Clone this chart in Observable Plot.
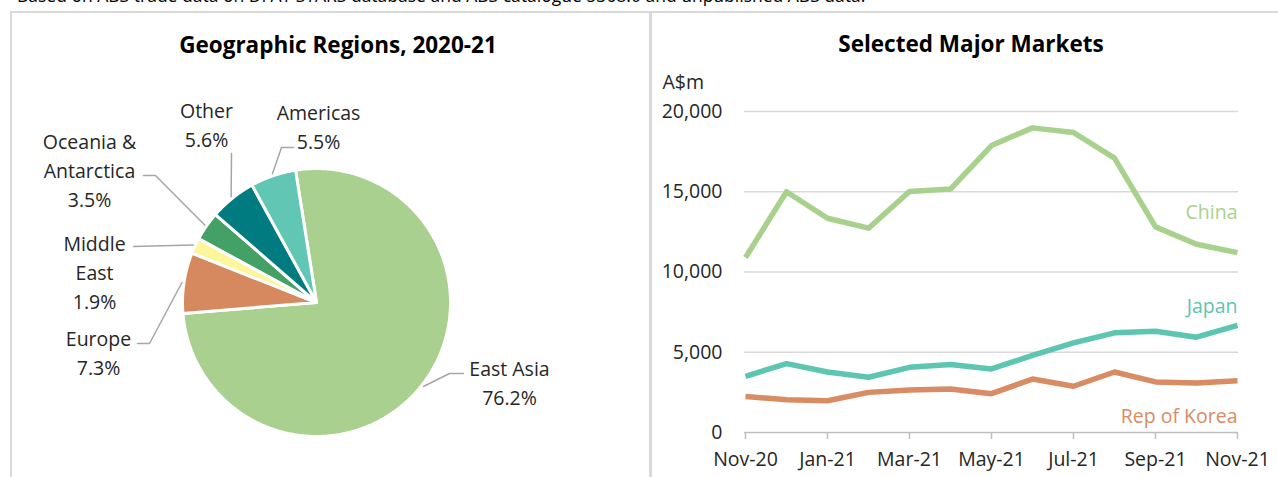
<!DOCTYPE html>
<html><head><meta charset="utf-8">
<script src="https://cdn.jsdelivr.net/npm/d3@7"></script>
<script src="https://cdn.jsdelivr.net/npm/@observablehq/plot@0.6"></script>
<style>
body{margin:0;background:#fff;font-family:"Open Sans",sans-serif;}
#root{position:relative;width:1278px;height:477px;overflow:hidden;background:#fff;}
.abs{position:absolute;}
.caption{left:17px;top:-15px;font-size:17.5px;color:#000;white-space:nowrap;line-height:20px;}
.border{background:#d9d9d9;}
.title{font-weight:bold;font-size:22.5px;color:#000;white-space:nowrap;transform:translate(-50%,-50%);line-height:28px;}
svg{position:absolute;overflow:visible;}
</style></head><body><div id="root"></div>
<script>
// ---------- data ----------
const regions = ["East Asia", "Europe", "Middle East", "Oceania & Antarctica", "Other", "Americas"];
const regionLabels = ["East Asia", "Europe", "Middle\nEast", "Oceania &\nAntarctica", "Other", "Americas"];
const regionShares = [76.2, 7.3, 1.9, 3.5, 5.6, 5.5];
const regionColors = ["#A9D08E", "#D6895F", "#FFF59A", "#43A165", "#007B80", "#62C6B4"];

const months = ["Nov-20","Dec-20","Jan-21","Feb-21","Mar-21","Apr-21","May-21","Jun-21","Jul-21","Aug-21","Sep-21","Oct-21","Nov-21"];
const monthTicks = ["Nov-20","Jan-21","Mar-21","May-21","Jul-21","Sep-21","Nov-21"];
const china = [10900, 15000, 13350, 12730, 15020, 15170, 17880, 18980, 18690, 17100, 12810, 11730, 11210];
const japan = [3500, 4290, 3770, 3440, 4060, 4230, 3960, 4810, 5580, 6210, 6310, 5940, 6670];
const korea = [2250, 2040, 1980, 2500, 2650, 2710, 2420, 3330, 2880, 3770, 3150, 3080, 3230];
const marketNames = ["China", "Japan", "Rep of Korea"];
const marketColors = ["#A9D18E", "#5CC6B1", "#D98B63"];
const valueTicks = [0, 5000, 10000, 15000, 20000];

// ---------- layout (not data) ----------
const FONT = "'Open Sans', sans-serif";
const FS = 19.5;
const root = document.getElementById("root");
function div(cls, style, text) {
  const d = document.createElement("div");
  d.className = "abs " + cls;
  Object.assign(d.style, style);
  if (text) d.textContent = text;
  root.appendChild(d);
  return d;
}
div("caption", {}, "Based on ABS trade data on DFAT STARS database and ABS catalogue 5368.0 and unpublished ABS data.");
div("border", {left: "10px", top: "11px", width: "1268px", height: "2px"});
div("border", {left: "10px", top: "11px", width: "2px", height: "466px"});
div("border", {left: "649px", top: "11px", width: "3px", height: "466px"});
div("title", {left: "338px", top: "45px"}, "Geographic Regions, 2020-21");
div("title", {left: "971px", top: "44px"}, "Selected Major Markets");

// ---------- pie ----------
const R = 134, CX = 316, CY = 302, START = -9 * Math.PI / 180;
const regionRows = regions.map((name, i) => ({name, label: regionLabels[i], share: regionShares[i]}));
const arcs = d3.pie().sort(null).value(d => d.share)
  .startAngle(START).endAngle(START + 2 * Math.PI)(regionRows);
const polar = (a, r) => [r * Math.sin(a), -r * Math.cos(a)];
const slicePts = [];
arcs.forEach(a => {
  const n = Math.max(2, Math.ceil((a.endAngle - a.startAngle) / (Math.PI / 360)));
  slicePts.push({name: a.data.name, x: 0, y: 0});
  for (let i = 0; i <= n; i++) {
    const t = a.startAngle + (a.endAngle - a.startAngle) * i / n;
    const [x, y] = polar(t, R);
    slicePts.push({name: a.data.name, x, y});
  }
  slicePts.push({name: a.data.name, x: 0, y: 0});
});
// label placement offsets relative to pie centre (annotation layout)
const labelLayout = {
  "East Asia": {at: [193, 79], leader: [[133, 71], [147, 71]]},
  "Europe": {at: [-218, 49], leader: [[-167, 41], [-179, 41]]},
  "Middle East": {at: [-222, -32], leader: [[-183, -56]]},
  "Oceania & Antarctica": {at: [-227, -134], leader: [[-161, -127], [-173, -127]]},
  "Other": {at: [-110, -179], leader: [[-85, -149]]},
  "Americas": {at: [2, -177], leader: [[-35, -155], [-23, -155]]}
};
const leaderPts = [];
const labelRows = [];
arcs.forEach(a => {
  const name = a.data.name, L = labelLayout[name];
  const mid = (a.startAngle + a.endAngle) / 2;
  const [x0, y0] = polar(mid, R + 2);
  leaderPts.push({name, x: x0, y: y0});
  L.leader.forEach(([x, y]) => leaderPts.push({name, x, y}));
  labelRows.push({name, x: L.at[0], y: L.at[1], text: a.data.label + "\n" + a.data.share.toFixed(1) + "%"});
});

const pie = Plot.plot({
  width: 650, height: 477,
  margin: 0,
  x: {domain: [-CX, 650 - CX], range: [0, 650], axis: null},
  y: {domain: [-CY, 477 - CY], range: [0, 477], axis: null},
  color: {domain: regions, range: regionColors},
  style: {fontFamily: FONT, fontSize: FS + "px", background: "transparent", color: "#262626"},
  marks: [
    Plot.line(slicePts, {x: "x", y: "y", z: "name", fill: "name", stroke: "white", strokeWidth: 3, strokeLinejoin: "round"}),
    Plot.line(leaderPts, {x: "x", y: "y", z: "name", stroke: "#a6a6a6", strokeWidth: 1.5}),
    Plot.text(labelRows, {x: "x", y: "y", text: "text", lineHeight: 1.49, fill: "#262626", fontSize: FS})
  ]
});
pie.style.left = "0px"; pie.style.top = "0px";
root.appendChild(pie);

// ---------- line chart ----------
const series = [china, japan, korea];
const rows = marketNames.flatMap((s, k) => months.map((m, i) => ({series: s, month: m, value: series[k][i]})));
const labelDy = {"China": -40, "Japan": -19, "Rep of Korea": 36};

const chart = Plot.plot({
  width: 626, height: 477,
  marginLeft: 92, marginRight: 40, marginTop: 111, marginBottom: 45,
  x: {type: "point", domain: months, padding: 0},
  y: {domain: [0, 20000]},
  color: {domain: marketNames, range: marketColors},
  style: {fontFamily: FONT, fontSize: FS + "px", background: "transparent", color: "#262626"},
  marks: [
    Plot.gridY(valueTicks.filter(d => d > 0), {stroke: "#d9d9d9", strokeOpacity: 1, strokeWidth: 1.5}),
    Plot.ruleY([0], {stroke: "#bfbfbf", strokeWidth: 1.5}),
    Plot.axisX({ticks: monthTicks, tickSize: 7, tickPadding: 13, stroke: "#bfbfbf", strokeWidth: 1.5, label: null, fontSize: FS, fill: "#262626"}),
    Plot.axisY({ticks: valueTicks, tickSize: 0, tickPadding: 22, tickFormat: d3.format(","), label: null, fontSize: FS, fill: "#262626"}),
    Plot.text(["A$m"], {frameAnchor: "top-left", dx: -82, dy: -29, lineAnchor: "middle", textAnchor: "start", fontSize: FS, fill: "#262626"}),
    Plot.line(rows, {x: "month", y: "value", z: "series", stroke: "series", strokeWidth: 5.5, strokeLinejoin: "round", strokeLinecap: "butt"}),
    ...marketNames.map(s => Plot.text(rows.filter(d => d.series === s), Plot.selectLast({
      x: "month", y: "value", text: "series", fill: "series", textAnchor: "end", dy: labelDy[s], fontSize: FS
    })))
  ]
});
chart.style.left = "652px"; chart.style.top = "0px";
root.appendChild(chart);
</script></body></html>
